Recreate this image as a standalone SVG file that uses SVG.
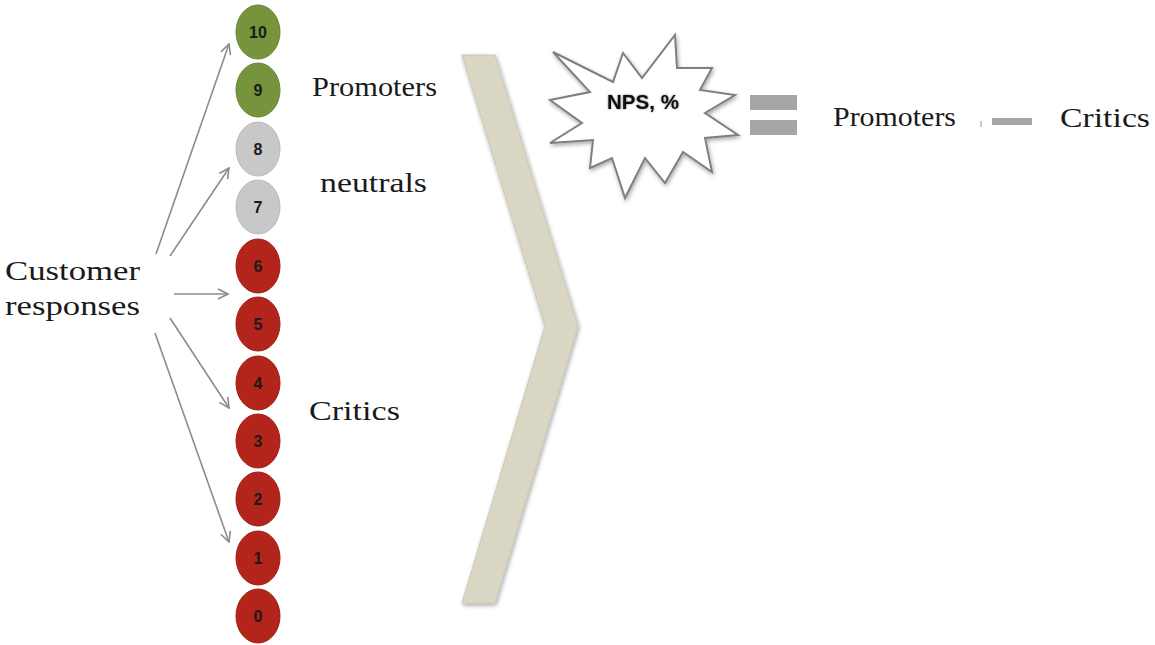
<svg xmlns="http://www.w3.org/2000/svg" width="1155" height="645" viewBox="0 0 1155 645">
  <style>
    .lbl { font-family: "Liberation Serif", "Times New Roman", serif; font-size: 28px; fill: #1a1a1a; }
    .num { font-family: "Liberation Sans", Arial, sans-serif; font-size: 16px; font-weight: bold; fill: #1a1a1a; text-anchor: middle; }
    .green { fill: #77933c; stroke: #6a8533; stroke-width: 1; }
    .grey { fill: #c8c8c8; stroke: #bababa; stroke-width: 1; }
    .red { fill: #b3241b; stroke: #9e1d15; stroke-width: 1; }
    .conn { stroke: #8c8c8c; stroke-width: 1.6; fill: none; marker-end: url(#open); }
    .bar { fill: #a6a6a6; }
  </style>
  <defs>
    <marker id="open" viewBox="0 0 12 12" refX="11" refY="6" markerWidth="12" markerHeight="12" markerUnits="userSpaceOnUse" orient="auto">
      <path d="M1,1 L11,6 L1,11" fill="none" stroke="#8c8c8c" stroke-width="1.6"/>
    </marker>
    <filter id="soft" x="-10%" y="-10%" width="130%" height="130%">
      <feGaussianBlur in="SourceAlpha" stdDeviation="2"/>
      <feOffset dx="1" dy="2" result="b"/>
      <feComponentTransfer><feFuncA type="linear" slope="0.35"/></feComponentTransfer>
      <feMerge><feMergeNode/><feMergeNode in="SourceGraphic"/></feMerge>
    </filter>
    <filter id="glow" x="-20%" y="-30%" width="140%" height="160%">
      <feGaussianBlur in="SourceAlpha" stdDeviation="1.2"/>
      <feComponentTransfer><feFuncA type="linear" slope="0.5"/></feComponentTransfer>
      <feMerge><feMergeNode/><feMergeNode in="SourceGraphic"/></feMerge>
    </filter>
  </defs>
  <rect width="1155" height="645" fill="#ffffff"/>

  <!-- source label -->
  <g id="customer-responses">
    <text class="lbl" x="5" y="280" font-size="29" textLength="135" lengthAdjust="spacingAndGlyphs">Customer</text>
    <text class="lbl" x="5" y="315" font-size="29" textLength="135" lengthAdjust="spacingAndGlyphs">responses</text>
  </g>

  <!-- arrows fanning out to the score scale -->
  <g id="connectors">
    <line class="conn" x1="156" y1="254" x2="229" y2="44"/>
    <line class="conn" x1="170" y1="256" x2="229" y2="168"/>
    <line class="conn" x1="174" y1="294" x2="228" y2="294"/>
    <line class="conn" x1="170" y1="318" x2="229" y2="408"/>
    <line class="conn" x1="155" y1="333" x2="229" y2="542"/>
  </g>

  <!-- score scale 10..0 -->
  <g id="score-10"><ellipse class="green" cx="258" cy="32" rx="22" ry="27"/><text class="num" x="258" y="38">10</text></g>
  <g id="score-9"><ellipse class="green" cx="258" cy="90" rx="22" ry="27"/><text class="num" x="258" y="96">9</text></g>
  <g id="score-8"><ellipse class="grey" cx="258" cy="149" rx="22" ry="27"/><text class="num" x="258" y="155">8</text></g>
  <g id="score-7"><ellipse class="grey" cx="258" cy="207" rx="22" ry="27"/><text class="num" x="258" y="213">7</text></g>
  <g id="score-6"><ellipse class="red" cx="258" cy="266" rx="22" ry="27"/><text class="num" x="258" y="272">6</text></g>
  <g id="score-5"><ellipse class="red" cx="258" cy="324" rx="22" ry="27"/><text class="num" x="258" y="330">5</text></g>
  <g id="score-4"><ellipse class="red" cx="258" cy="383" rx="22" ry="27"/><text class="num" x="258" y="389">4</text></g>
  <g id="score-3"><ellipse class="red" cx="258" cy="441" rx="22" ry="27"/><text class="num" x="258" y="447">3</text></g>
  <g id="score-2"><ellipse class="red" cx="258" cy="499" rx="22" ry="27"/><text class="num" x="258" y="505">2</text></g>
  <g id="score-1"><ellipse class="red" cx="258" cy="558" rx="22" ry="27"/><text class="num" x="258" y="564">1</text></g>
  <g id="score-0"><ellipse class="red" cx="258" cy="616" rx="22" ry="27"/><text class="num" x="258" y="622">0</text></g>

  <!-- group labels -->
  <g id="label-promoters"><text class="lbl" x="312" y="96" textLength="125" lengthAdjust="spacingAndGlyphs">Promoters</text></g>
  <g id="label-neutrals"><text class="lbl" x="320" y="192" textLength="107" lengthAdjust="spacingAndGlyphs">neutrals</text></g>
  <g id="label-critics"><text class="lbl" x="309" y="420" textLength="91" lengthAdjust="spacingAndGlyphs">Critics</text></g>

  <!-- chevron -->
  <g id="chevron">
    <polygon points="462,55 495,55 578,326 495,603 462,603 545,326" fill="#d9d6c3" stroke="#cbc8b4" stroke-width="1" filter="url(#soft)"/>
  </g>

  <!-- NPS burst -->
  <g id="nps">
    <polygon points="553,52 613,82 623,53 642,78 675,35 677,68 712,68 700,90 735,95 705,113 738,135 705,138 712,172 683,152 665,183 645,158 625,198 612,158 590,168 593,140 550,143 582,123 550,100 590,92" fill="#ffffff" stroke="#7f7f7f" stroke-width="2" stroke-linejoin="miter" filter="url(#soft)"/>
    <text x="643" y="109" text-anchor="middle" font-family="'Liberation Sans', Arial, sans-serif" font-size="20" font-weight="bold" fill="#111111" textLength="72" lengthAdjust="spacingAndGlyphs" filter="url(#glow)">NPS, %</text>
  </g>

  <!-- equals sign -->
  <g id="equals">
    <rect class="bar" x="750" y="95" width="47" height="15"/>
    <rect class="bar" x="750" y="120" width="47" height="15"/>
  </g>

  <!-- formula -->
  <g id="formula-promoters"><text class="lbl" x="833" y="126" textLength="123" lengthAdjust="spacingAndGlyphs">Promoters</text></g>
  <g id="minus">
    <rect class="bar" x="980" y="121" width="2" height="6" opacity="0.6"/>
    <rect class="bar" x="992" y="118" width="40" height="7"/>
  </g>
  <g id="formula-critics"><text class="lbl" x="1060" y="127" textLength="90" lengthAdjust="spacingAndGlyphs">Critics</text></g>
</svg>
